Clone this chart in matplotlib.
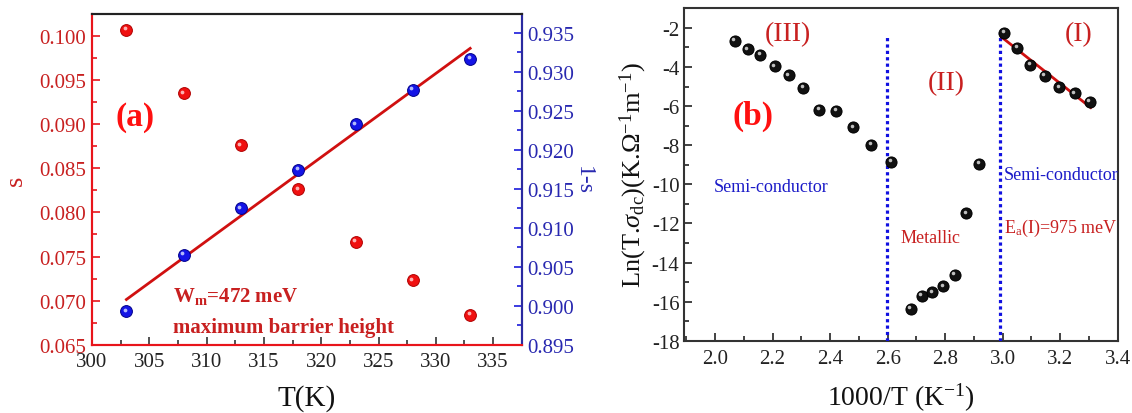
import numpy as np
import matplotlib
matplotlib.use("Agg")
import matplotlib.pyplot as plt
from matplotlib.ticker import MultipleLocator, FormatStrFormatter
from matplotlib.transforms import offset_copy

# ---------------- data ----------------
T_K = [303, 308, 313, 318, 323, 328, 333]
s_vals = [0.1007, 0.0935, 0.0876, 0.0826, 0.0767, 0.0723, 0.0684]
one_minus_s = [0.8993, 0.9065, 0.9125, 0.9174, 0.9233, 0.9277, 0.9317]

inv_T_III = [2.068, 2.113, 2.157, 2.207, 2.256, 2.307, 2.363, 2.421, 2.480, 2.543, 2.613]
ln_III = [-2.67, -3.09, -3.37, -3.96, -4.42, -5.06, -6.20, -6.25, -7.09, -7.98, -8.86]
inv_T_II = [2.680, 2.718, 2.755, 2.793, 2.834, 2.874, 2.918]
ln_II = [-16.36, -15.71, -15.52, -15.22, -14.64, -11.48, -8.95]
inv_T_I = [3.005, 3.051, 3.096, 3.146, 3.197, 3.250, 3.303]
ln_I = [-2.27, -3.02, -3.90, -4.46, -5.04, -5.35, -5.77]
fit_I_range = [2.997, 3.306]
boundary_x = [2.597, 2.989]
boundary_top = [-2.45, -2.2]

RED = '#e8141b'
DRED = '#d01010'
BLUE = '#1a1adc'
TXTRED = '#c82020'

plt.rcParams['font.family'] = ['Liberation Serif', 'DejaVu Serif']
plt.rcParams['mathtext.fontset'] = 'custom'
plt.rcParams['mathtext.rm'] = 'Liberation Serif'
plt.rcParams['mathtext.it'] = 'Liberation Serif:italic'
plt.rcParams['mathtext.bf'] = 'Liberation Serif:bold'
plt.rcParams['axes.unicode_minus'] = False

fig = plt.figure(figsize=(11.32, 4.14), dpi=100)

def balls(ax, x, y, color, edge, hl, ms=8.5):
    ax.plot(x, y, 'o', ms=ms, color=color, mec=edge, mew=0.7, zorder=5)
    tr = offset_copy(ax.transData, fig=fig, x=-1.1, y=1.2, units='points')
    ax.plot(x, y, 'o', ms=ms * 0.32, color=hl, mec='none', alpha=0.85,
            transform=tr, zorder=6)

# ---------------- panel (a) ----------------
ax = fig.add_axes([0.0813, 0.1650, 0.3796, 0.7988])
ax2 = ax.twinx()
ax.set_xlim(300, 337.5)
ax.set_ylim(0.065, 0.1025)
ax2.set_ylim(0.895, 0.93744)

balls(ax, T_K, s_vals, '#f01010', '#b00000', '#ffd0d0')
balls(ax2, T_K, one_minus_s, '#1414e6', '#00008a', '#d0d8ff')

coef = np.polyfit(T_K, one_minus_s, 1)
xl = np.array([T_K[0], T_K[-1]])
ax2.plot(xl, np.polyval(coef, xl), color=DRED, lw=2, zorder=4)

ax.xaxis.set_major_locator(MultipleLocator(5))
ax.xaxis.set_minor_locator(MultipleLocator(2.5))
ax.yaxis.set_major_locator(MultipleLocator(0.005))
ax.yaxis.set_minor_locator(MultipleLocator(0.0025))
ax.yaxis.set_major_formatter(FormatStrFormatter('%.3f'))
ax2.yaxis.set_major_locator(MultipleLocator(0.005))
ax2.yaxis.set_minor_locator(MultipleLocator(0.0025))
ax2.yaxis.set_major_formatter(FormatStrFormatter('%.3f'))

ax.tick_params(axis='x', which='both', direction='in', top=False, labelsize=15,
               colors='#222222', pad=5)
ax.tick_params(axis='x', which='major', length=6, width=1.2, color='#333333')
ax.tick_params(axis='x', which='minor', length=3.5, width=1.2, color='#333333')
ax.tick_params(axis='y', which='both', direction='in', right=False, labelsize=15,
               colors=RED, labelcolor=TXTRED, pad=4)
ax.tick_params(axis='y', which='major', length=6, width=1.2)
ax.tick_params(axis='y', which='minor', length=3.5, width=1.2)
ax2.tick_params(axis='y', which='both', direction='in', labelsize=15,
                colors=BLUE, labelcolor='#2828b0', pad=4)
ax2.tick_params(axis='y', which='major', length=6, width=1.2)
ax2.tick_params(axis='y', which='minor', length=3.5, width=1.2)

for a in (ax, ax2):
    a.spines['left'].set_color(RED)
    a.spines['bottom'].set_color(RED)
    a.spines['right'].set_color('#2a2aa0')
    a.spines['top'].set_color('#222222')
    for sp in a.spines.values():
        sp.set_linewidth(1.5)

ax.set_xlabel('T(K)', fontsize=21, labelpad=10, color='#111111')
ax.set_ylabel('s', fontsize=19, color=TXTRED, labelpad=9)
ax2.set_ylabel('1-s', fontsize=17, color='#2828b0', rotation=-90, labelpad=14)

ax.text(303.75, 0.0909, '(a)', fontsize=24, fontweight='bold', color='#ff1010',
        ha='center', va='center')
ax.text(307.1, 0.0706, r'W$_\mathbf{m}$=472 meV', fontsize=15, fontweight='bold',
        color=TXTRED, ha='left', va='center')
ax.text(307.1, 0.0670, 'maximum barrier height', fontsize=15, fontweight='bold',
        color=TXTRED, ha='left', va='center')

# ---------------- panel (b) ----------------
bx = fig.add_axes([0.6045, 0.1746, 0.3829, 0.8029])
bx.set_xlim(1.893, 3.40)
bx.set_ylim(-18, -1)

for xv, yt in zip(boundary_x, boundary_top):
    bx.plot([xv, xv], [-18, yt], color='#1010e0', lw=2.3, ls=(0, (1, 1)), zorder=3)

balls(bx, inv_T_III, ln_III, '#111111', '#000000', '#e0e0e0', ms=8)
balls(bx, inv_T_II, ln_II, '#111111', '#000000', '#e0e0e0', ms=8)
balls(bx, inv_T_I, ln_I, '#111111', '#000000', '#e0e0e0', ms=8)

cI = np.polyfit(inv_T_I, ln_I, 1)
xf = np.array(fit_I_range)
bx.plot(xf, np.polyval(cI, xf), color=DRED, lw=2, zorder=4)

bx.xaxis.set_major_locator(MultipleLocator(0.2))
bx.xaxis.set_minor_locator(MultipleLocator(0.1))
bx.yaxis.set_major_locator(MultipleLocator(2))
bx.yaxis.set_minor_locator(MultipleLocator(1))
bx.xaxis.set_major_formatter(FormatStrFormatter('%.1f'))
bx.tick_params(which='both', direction='in', labelsize=15, colors='#222222',
               top=False, right=False)
bx.tick_params(which='major', length=6, width=1.2)
bx.tick_params(which='minor', length=3.5, width=1.2)
bx.tick_params(axis='x', pad=6)
for sp in bx.spines.values():
    sp.set_linewidth(1.5)
    sp.set_color('#333333')

bx.set_xlabel(r'1000/T (K$^{-1}$)', fontsize=20, labelpad=9, color='#111111')
bx.set_ylabel(r'Ln(T.$\sigma_{\mathrm{dc}}$)(K.$\Omega^{-1}$m$^{-1}$)', fontsize=19,
              color='#111111', labelpad=2)

bx.text(2.254, -2.29, '(III)', fontsize=20, color=TXTRED, ha='center', va='center')
bx.text(2.803, -4.80, '(II)', fontsize=20, color=TXTRED, ha='center', va='center')
bx.text(3.264, -2.29, '(I)', fontsize=20, color=TXTRED, ha='center', va='center')
bx.text(2.131, -6.47, '(b)', fontsize=24, fontweight='bold', color='#ff1010',
        ha='center', va='center')
bx.text(1.995, -10.11, 'Semi-conductor', fontsize=13, color='#1a1ac8',
        ha='left', va='center')
bx.text(2.645, -12.71, 'Metallic', fontsize=13, color=TXTRED, ha='left', va='center')
bx.text(3.004, -9.51, 'Semi-conductor', fontsize=13, color='#1a1ac8',
        ha='left', va='center')
bx.text(3.006, -12.21, r'E$_\mathrm{a}$(I)=975 meV', fontsize=13, color=TXTRED,
        ha='left', va='center')

fig.savefig('out.png', dpi=100)
